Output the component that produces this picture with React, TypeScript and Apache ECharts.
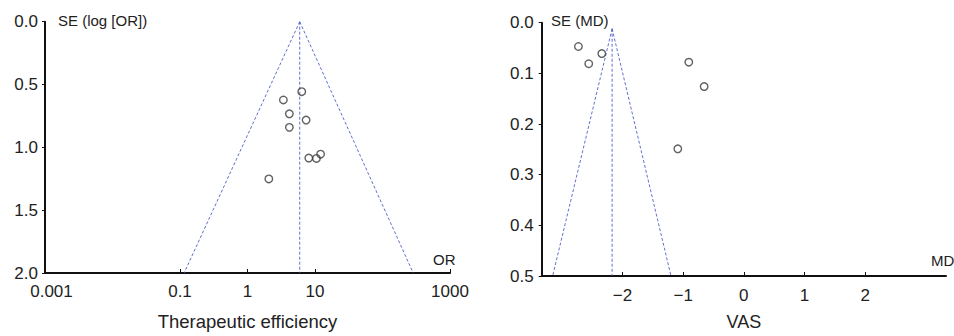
import React, { useEffect, useRef } from "react";
import * as echarts from "echarts";

// Left panel: therapeutic efficiency (OR vs SE(log OR))
const orPoints: number[][] = [
  [6.36, 0.557],
  [3.4, 0.623],
  [4.17, 0.733],
  [7.38, 0.783],
  [4.17, 0.841],
  [12.1, 1.054],
  [8.09, 1.085],
  [10.5, 1.088],
  [2.07, 1.251],
];
const orFunnelLeft: number[][] = [[5.94, 0], [0.115, 2]];
const orFunnelRight: number[][] = [[5.94, 0], [285, 2]];
const orPooledLine: number[][] = [[5.94, 0], [5.94, 2]];
const orTicks: number[] = [0.001, 0.1, 1, 10, 1000];

// Right panel: VAS (MD vs SE(MD))
const mdPoints: number[][] = [
  [-2.725, 0.047],
  [-2.555, 0.081],
  [-2.34, 0.061],
  [-0.907, 0.078],
  [-0.654, 0.126],
  [-1.088, 0.249],
];
const mdFunnelLeft: number[][] = [[-2.17, 0.012], [-3.15, 0.5]];
const mdFunnelRight: number[][] = [[-2.17, 0.012], [-1.2, 0.5]];
const mdPooledLine: number[][] = [[-2.17, 0.012], [-2.17, 0.5]];
const mdTicks: number[] = [-2, -1, 0, 1, 2];

const FONT = "'Liberation Sans', Arial, Helvetica, sans-serif";
const TEXT = "#222";
const AXIS = "#111";
const FUNNEL = "#4656c8";

export default function App() {
  const ref = useRef<HTMLDivElement>(null);

  useEffect(() => {
    if (!ref.current) return;
    const chart = echarts.init(ref.current, null, { renderer: "svg" });

    const dashed = {
      color: FUNNEL,
      width: 1,
      type: [3, 2] as number[],
      opacity: 0.85,
    };
    const lineSeries = (data: number[][], xi: number) => ({
      type: "line",
      xAxisIndex: xi,
      yAxisIndex: xi,
      data,
      symbol: "none",
      lineStyle: dashed,
      silent: true,
      z: 1,
    });
    const pointSeries = (data: number[][], xi: number) => ({
      type: "scatter",
      xAxisIndex: xi,
      yAxisIndex: xi,
      data,
      symbol: "circle",
      symbolSize: 7.5,
      itemStyle: { color: "rgba(255,255,255,0)", borderColor: "#3a3a3a", borderWidth: 1.4 },
      z: 3,
    });

    const yAxisBase = {
      type: "value",
      inverse: true,
      min: 0,
      splitLine: { show: false },
      axisLine: { show: true, onZero: false, lineStyle: { color: AXIS, width: 2 } },
      axisTick: { show: true, length: 3, lineStyle: { color: AXIS, width: 1 } },
      axisLabel: {
        color: TEXT,
        fontFamily: FONT,
        fontSize: 17,
        formatter: (v: number) => v.toFixed(1),
      },
    };

    const option: any = {
      animation: false,
      backgroundColor: "#fff",
      grid: [
        { left: 45, top: 21.7, width: 405, height: 253.6, containLabel: false },
        { left: 541.7, top: 22.7, width: 404.3, height: 253.3, containLabel: false },
      ],
      xAxis: [
        {
          type: "log",
          gridIndex: 0,
          logBase: 10,
          min: 0.001,
          max: 1000,
          splitLine: { show: false },
          axisLine: { show: true, onZero: false, lineStyle: { color: AXIS, width: 2 } },
          axisTick: {
            show: true,
            inside: true,
            length: 4,
            customValues: orTicks,
            lineStyle: { color: AXIS, width: 1 },
          },
          axisLabel: {
            customValues: orTicks,
            color: TEXT,
            fontFamily: FONT,
            fontSize: 17,
            margin: 10,
            formatter: (v: number) => {
              const s = String(+Number(v).toPrecision(6));
              return Math.abs(v - 0.001) < 1e-9 ? "{s|" + s + "}" : s;
            },
            rich: {
              s: { padding: [0, 0, 0, 13], fontSize: 17, fontFamily: FONT, color: TEXT },
            },
          },
          name: "Therapeutic efficiency",
          nameLocation: "middle",
          nameGap: 39,
          nameTextStyle: { color: TEXT, fontFamily: FONT, fontSize: 18.5 },
        },
        {
          type: "value",
          gridIndex: 1,
          min: -3.33,
          max: 3.33,
          splitLine: { show: false },
          axisLine: { show: true, onZero: false, lineStyle: { color: AXIS, width: 2 } },
          axisTick: {
            show: true,
            inside: true,
            length: 4,
            customValues: mdTicks,
            lineStyle: { color: AXIS, width: 1 },
          },
          axisLabel: {
            customValues: mdTicks,
            color: TEXT,
            fontFamily: FONT,
            fontSize: 17,
            margin: 11,
            formatter: (v: number) => String(v).replace("-", "\u2212"),
          },
          name: "VAS",
          nameLocation: "middle",
          nameGap: 37,
          nameTextStyle: { color: TEXT, fontFamily: FONT, fontSize: 18 },
        },
      ],
      yAxis: [
        {
          ...yAxisBase,
          gridIndex: 0,
          max: 2,
          interval: 0.5,
          axisLabel: { ...yAxisBase.axisLabel, margin: 7 },
        },
        {
          ...yAxisBase,
          gridIndex: 1,
          max: 0.5,
          interval: 0.1,
          axisLabel: { ...yAxisBase.axisLabel, margin: 8 },
        },
      ],
      graphic: [
        {
          type: "text",
          left: 58,
          top: 13,
          style: { text: "SE (log [OR])", font: `15px ${FONT}`, fill: TEXT },
        },
        {
          type: "text",
          left: 433,
          top: 252,
          style: { text: "OR", font: `15px ${FONT}`, fill: TEXT },
        },
        {
          type: "text",
          left: 551,
          top: 13,
          style: { text: "SE (MD)", font: `15px ${FONT}`, fill: TEXT },
        },
        {
          type: "text",
          left: 931,
          top: 253,
          style: { text: "MD", font: `15px ${FONT}`, fill: TEXT },
        },
      ],
      series: [
        lineSeries(orFunnelLeft, 0),
        lineSeries(orFunnelRight, 0),
        lineSeries(orPooledLine, 0),
        pointSeries(orPoints, 0),
        lineSeries(mdFunnelLeft, 1),
        lineSeries(mdFunnelRight, 1),
        lineSeries(mdPooledLine, 1),
        pointSeries(mdPoints, 1),
      ],
    };

    chart.setOption(option);
    return () => chart.dispose();
  }, []);

  return (
    <div
      ref={ref}
      style={{ position: "fixed", left: 0, top: 0, width: 954, height: 336, background: "#fff" }}
    />
  );
}
